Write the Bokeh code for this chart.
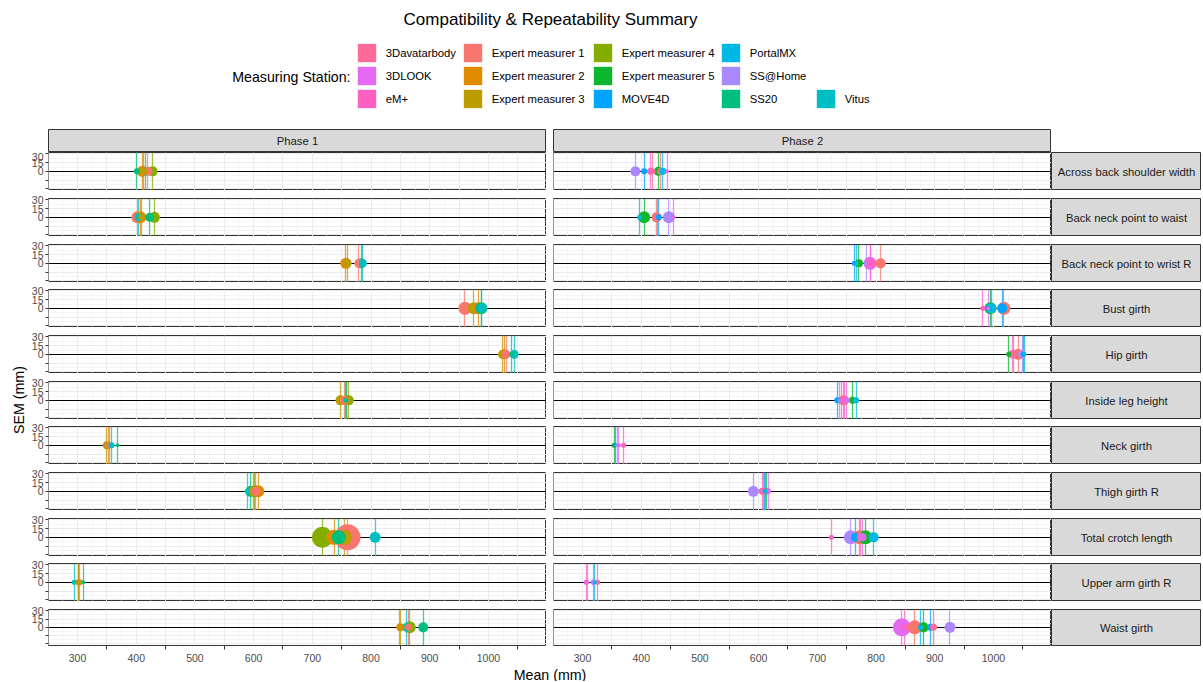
import math
from bokeh.plotting import figure
from bokeh.layouts import row, column
from bokeh.models import (Range1d, FixedTicker, LinearAxis, Grid, Label,
                          Legend, LegendItem, ColumnDataSource, Spacer)
from bokeh.embed import file_html
from bokeh.resources import INLINE

# ---------------- data ----------------
measurements = ["Across back shoulder width", "Back neck point to waist",
                "Back neck point to wrist R", "Bust girth", "Hip girth",
                "Inside leg height", "Neck girth", "Thigh girth R",
                "Total crotch length", "Upper arm girth R", "Waist girth"]
phases = ["Phase 1", "Phase 2"]

stations = ["3Davatarbody", "3DLOOK", "eM+", "Expert measurer 1",
            "Expert measurer 2", "Expert measurer 3", "Expert measurer 4",
            "Expert measurer 5", "MOVE4D", "PortalMX", "SS@Home", "SS20", "Vitus"]
station_colors = ["#FF6A98", "#E46AF2", "#FF61C3", "#F8766D", "#E08B00",
                  "#BB9D00", "#85AD00", "#0CB72D", "#00A5FF", "#00B8E5",
                  "#AC88FF", "#00BF7D", "#00BFC4"]

x_ticks = [300, 400, 500, 600, 700, 800, 900, 1000]
y_ticks = [-30, -15, 0, 15, 30]

E1, E2, E3, E4, E5 = ("Expert measurer 1", "Expert measurer 2", "Expert measurer 3",
                      "Expert measurer 4", "Expert measurer 5")

# Phase 1: row index, station, mean (mm), SEM (mm)
p1_row = [0, 0, 0, 0, 0, 0,
          1, 1, 1, 1, 1, 1,
          2, 2, 2, 2, 2,
          3, 3, 3, 3, 3,
          4, 4, 4, 4, 4,
          5, 5, 5, 5, 5, 5,
          6, 6, 6, 6, 6,
          7, 7, 7, 7, 7, 7,
          8, 8, 8, 8, 8, 8,
          9, 9, 9, 9, 9,
          10, 10, 10, 10, 10, 10]
p1_station = ["SS20", E2, E3, "Vitus", E1, E4,
              E1, "Vitus", E2, E3, "SS20", E4,
              E2, E3, E1, "SS20", "Vitus",
              E1, E3, E2, "SS20", "Vitus",
              E3, E2, E1, "SS20", "Vitus",
              E3, E1, "Vitus", "SS20", E2, E4,
              E3, E2, E1, "Vitus", "SS20",
              "Vitus", "SS20", E3, E4, E1, E2,
              E4, E2, "SS20", E3, E1, "Vitus",
              "Vitus", E2, E3, E1, "SS20",
              E2, E3, "Vitus", E1, E4, "SS20"]
p1_mean = [401, 410, 412, 416, 420, 428,
           402, 404, 407, 409, 423, 431,
           757, 760, 779, 783, 786,
           960, 975, 983, 988, 989,
           1024, 1027, 1030, 1040, 1044,
           748, 755, 757, 758, 759, 762,
           350, 352, 354, 358, 368,
           589, 595, 600, 602, 604, 608,
           717, 737, 745, 755, 760, 807,
           294, 301, 302, 304, 310,
           849, 850, 861, 864, 866, 889]
p1_sem = [2.3, 7.6, 4.0, 5.1, 5.1, 6.3,
          9.0, 4.0, 9.0, 2.3, 5.1, 7.6,
          7.6, 4.0, 5.1, 6.3, 4.0,
          10.6, 9.0, 9.0, 9.0, 5.1,
          5.1, 6.3, 5.1, 1.6, 5.1,
          6.3, 5.1, 1.6, 1.0, 3.1, 6.3,
          4.0, 3.1, 2.3, 2.3, 1.0,
          1.6, 7.6, 6.3, 9.0, 5.1, 9.0,
          27.6, 14.1, 12.3, 14.1, 42.3, 7.6,
          1.6, 2.3, 1.6, 2.3, 1.0,
          2.3, 4.0, 5.1, 3.1, 9.0, 6.3]

# Phase 2
p2_row = [0, 0, 0, 0, 0, 0, 0, 0,
          1, 1, 1, 1, 1, 1, 1,
          2, 2, 2, 2, 2, 2, 2,
          3, 3, 3, 3, 3, 3,
          4, 4, 4, 4, 4, 4, 4,
          5, 5, 5, 5, 5, 5, 5, 5,
          6, 6, 6, 6, 6,
          7, 7, 7, 7, 7, 7, 7,
          8, 8, 8, 8, 8, 8, 8, 8,
          9, 9, 9, 9, 9,
          10, 10, 10, 10, 10, 10, 10, 10]
p2_station = ["SS@Home", "MOVE4D", "eM+", "3Davatarbody", E5, E1, "PortalMX", "3DLOOK",
              "PortalMX", E5, E1, "3Davatarbody", "MOVE4D", "SS@Home", "3DLOOK",
              "MOVE4D", "PortalMX", E5, "SS@Home", "3DLOOK", "eM+", E1,
              "eM+", "3DLOOK", E5, "PortalMX", "MOVE4D", E1,
              E5, "eM+", "3Davatarbody", E1, "SS@Home", "MOVE4D", "PortalMX",
              "MOVE4D", "SS@Home", "3Davatarbody", E1, "eM+", "3DLOOK", E5, "PortalMX",
              E5, "MOVE4D", "SS@Home", "3DLOOK", "eM+",
              "SS@Home", "eM+", "3Davatarbody", "MOVE4D", "PortalMX", E5, "3DLOOK",
              "eM+", "SS@Home", "MOVE4D", E1, "3Davatarbody", "3DLOOK", E5, "PortalMX",
              "eM+", "3DLOOK", "SS@Home", "PortalMX", "3Davatarbody",
              "3DLOOK", "eM+", E1, "PortalMX", E5, "MOVE4D", "3Davatarbody", "SS@Home"]
p2_mean = [390, 405, 416, 420, 429, 433, 437, 444,
           397, 405, 426, 427, 430, 447, 455,
           763, 766, 771, 783, 790, 791, 808,
           982, 991, 995, 996, 1015, 1018,
           1026, 1032, 1034, 1042, 1049, 1051, 1053,
           734, 738, 742, 745, 747, 750, 760, 766,
           354, 356, 359, 362, 370,
           591, 606, 608, 610, 612, 614, 616,
           724, 757, 765, 772, 774, 777, 782, 796,
           306, 308, 319, 321, 326,
           844, 849, 866, 876, 881, 893, 898, 926]
p2_sem = [6.3, 2.3, 3.1, 1.6, 5.1, 3.1, 3.1, 1.0,
          1.6, 9.0, 6.3, 2.3, 2.3, 9.0, 1.0,
          1.6, 1.0, 4.0, 1.0, 10.6, 5.1, 6.3,
          1.6, 1.0, 9.0, 6.3, 6.3, 10.6,
          1.6, 4.0, 2.3, 7.6, 4.0, 1.6, 1.0,
          2.3, 1.0, 4.0, 6.3, 4.0, 2.3, 3.1, 2.3,
          1.6, 1.0, 1.0, 1.0, 1.6,
          7.6, 3.1, 2.3, 1.0, 1.0, 2.3, 2.3,
          1.6, 12.3, 5.1, 12.3, 4.0, 4.0, 12.3, 6.3,
          1.6, 1.0, 2.3, 1.0, 1.6,
          20.3, 2.3, 12.3, 1.6, 6.3, 3.1, 3.1, 7.6]

# ---------------- style / layout ----------------
FONT = "Liberation Sans"
COLOR = dict(zip(stations, station_colors))
XR = (250.5, 1099.0)
YR = (-33.0, 32.5)
PANEL_W, PANEL_H = 498, 38
GAPS = [0, 8, 8, 7, 8, 8, 7, 8, 8, 7, 8]
BOTTOM = 17
LEFT, MID = 20, 7
STRIP_W, STRIP_H = 150, 23
TOP_H, YLAB_W, XT_H = 129, 28, 17
TOTAL_W = YLAB_W + LEFT + PANEL_W + MID + PANEL_W + STRIP_W
BORDER = "#333333"
GRID = "#EBEBEB"


def size_of(sem):
    return 4.0 * math.sqrt(sem)


def base_fig(w, h, xr, yr, **kw):
    opts = dict(width=w, height=h, x_range=Range1d(*xr), y_range=Range1d(*yr),
                x_axis_type=None, y_axis_type=None, toolbar_location=None,
                output_backend="svg", min_border=0, min_border_left=0,
                min_border_right=0, min_border_top=0, min_border_bottom=0,
                outline_line_color=None)
    opts.update(kw)
    return figure(**opts)


def add_grids(p):
    p.add_layout(Grid(dimension=0,
                      ticker=FixedTicker(ticks=list(range(250, 1101, 50)),
                                         minor_ticks=list(range(275, 1100, 50))),
                      grid_line_color=GRID, grid_line_width=1,
                      minor_grid_line_color=GRID, minor_grid_line_width=0.5))
    p.add_layout(Grid(dimension=1,
                      ticker=FixedTicker(ticks=y_ticks, minor_ticks=[-22.5, -7.5, 7.5, 22.5]),
                      grid_line_color=GRID, grid_line_width=1,
                      minor_grid_line_color=GRID, minor_grid_line_width=0.5))


def panel_source(rows_, sts, means, sems, r):
    idx = [i for i in range(len(rows_)) if rows_[i] == r]
    idx.sort(key=lambda i: -sems[i])
    return ColumnDataSource(dict(
        x=[means[i] for i in idx],
        y=[0.0] * len(idx),
        sem=[sems[i] for i in idx],
        size=[size_of(sems[i]) for i in idx],
        color=[COLOR[sts[i]] for i in idx],
        station=[sts[i] for i in idx]))


def make_panel(ph, r):
    last = r == len(measurements) - 1
    left = LEFT if ph == 0 else MID
    h = GAPS[r] + PANEL_H + (BOTTOM if last else 0)
    p = base_fig(left + PANEL_W, h, XR, YR, min_border_left=left,
                 min_border_top=GAPS[r], min_border_bottom=BOTTOM if last else 0,
                 outline_line_color=BORDER, outline_line_width=1,
                 background_fill_color="white")
    add_grids(p)
    if ph == 0:
        src = panel_source(p1_row, p1_station, p1_mean, p1_sem, r)
    else:
        src = panel_source(p2_row, p2_station, p2_mean, p2_sem, r)
    p.vspan(x="x", line_color="color", line_width=1.3, line_alpha=0.75, source=src)
    p.hspan(y=[0], line_color="black", line_width=1)
    p.scatter(x="x", y="y", size="size", fill_color="color", line_color=None, source=src)
    if ph == 0:
        yax = LinearAxis(ticker=FixedTicker(ticks=y_ticks, minor_ticks=[]),
                         major_label_overrides={-30: "", -15: "", 0: "0", 15: "15", 30: "30"},
                         axis_line_color=None, major_tick_out=3, major_tick_in=0,
                         minor_tick_out=0, minor_tick_in=0,
                         major_tick_line_color=BORDER,
                         major_label_standoff=2,
                         major_label_text_font=FONT,
                         major_label_text_font_size="10.5px",
                         major_label_text_color="#4D4D4D")
        p.add_layout(yax, "left")
    if last:
        xax = LinearAxis(ticker=FixedTicker(ticks=x_ticks,
                                            minor_ticks=[t + 50 for t in x_ticks]),
                         axis_line_color=None, major_tick_out=0, major_tick_in=0,
                         minor_tick_out=4, minor_tick_in=0,
                         minor_tick_line_color=BORDER,
                         major_label_standoff=4,
                         major_label_text_font=FONT,
                         major_label_text_font_size="10.5px",
                         major_label_text_color="#4D4D4D")
        p.add_layout(xax, "below")
    return p


def make_strip(w, h, text, left=0, top=0, bottom=0):
    s = base_fig(w, h, (0, 1), (0, 1), min_border_left=left, min_border_top=top,
                 min_border_bottom=bottom, background_fill_color="#D9D9D9",
                 outline_line_color=BORDER, outline_line_width=1)
    s.add_layout(Label(x=0.5, y=0.5, text=text, text_align="center",
                       text_baseline="middle", text_font=FONT,
                       text_font_size="11.3px", text_color="#1A1A1A"))
    return s


# ---------------- top: title + legend (page pixel coordinates) ----------------
top = base_fig(TOTAL_W, TOP_H, (0, TOTAL_W), (TOP_H, 0))
top.add_layout(Label(x=550, y=19, text="Compatibility & Repeatability Summary",
                     text_align="center", text_baseline="middle", text_font=FONT,
                     text_font_size="17px", text_color="black"))
top.add_layout(Label(x=350, y=76, text="Measuring Station:", text_align="right",
                     text_baseline="middle", text_font=FONT,
                     text_font_size="14.2px", text_color="black"))
nan = float("nan")
legend_renderers = {}
for st in stations:
    legend_renderers[st] = top.quad(left=[nan], right=[nan], top=[nan], bottom=[nan],
                                    fill_color=COLOR[st], line_color=None)
KEY = 23          # legend glyph box (area glyphs are drawn at 80 % of it)
INSET = KEY * 0.1
legend_cols_x = [357, 463, 593, 721, 816]
legend_bottom = 108
for c in range(5):
    group = stations[c * 3:(c + 1) * 3]
    leg = Legend(items=[LegendItem(label=st, renderers=[legend_renderers[st]]) for st in group],
                 location=(legend_cols_x[c] - INSET, TOP_H - legend_bottom - INSET),
                 orientation="vertical", glyph_width=KEY, glyph_height=KEY,
                 label_height=KEY, spacing=0, padding=0, margin=0,
                 label_standoff=8, border_line_color=None,
                 background_fill_alpha=0, label_text_font=FONT,
                 label_text_font_size="11.3px", label_text_color="black",
                 label_text_baseline="middle")
    top.add_layout(leg)

# ---------------- panels ----------------
strip_row = row(make_strip(LEFT + PANEL_W, STRIP_H, phases[0], left=LEFT),
                make_strip(MID + PANEL_W, STRIP_H, phases[1], left=MID),
                Spacer(width=STRIP_W, height=STRIP_H), spacing=0)

panel_rows = []
for r in range(len(measurements)):
    last = r == len(measurements) - 1
    h = GAPS[r] + PANEL_H + (BOTTOM if last else 0)
    panel_rows.append(row(make_panel(0, r), make_panel(1, r),
                          make_strip(STRIP_W, h, measurements[r], top=GAPS[r],
                                     bottom=BOTTOM if last else 0), spacing=0))

inner_w = TOTAL_W - YLAB_W
xt = base_fig(inner_w, XT_H, (YLAB_W, TOTAL_W), (XT_H, 0))
panel_center_x = YLAB_W + LEFT + (PANEL_W * 2 + MID) / 2
xt.add_layout(Label(x=panel_center_x, y=10, text="Mean (mm)", text_align="center",
                    text_baseline="middle", text_font=FONT, text_font_size="14.2px",
                    text_color="black"))

body_h = STRIP_H + sum(GAPS) + PANEL_H * len(measurements) + BOTTOM + XT_H
y0 = TOP_H
ylab = base_fig(YLAB_W, body_h, (0, YLAB_W), (y0 + body_h, y0))
panel_top = y0 + STRIP_H
panel_bot = panel_top + sum(GAPS) + PANEL_H * len(measurements)
ylab.add_layout(Label(x=18, y=(panel_top + panel_bot) / 2, text="SEM (mm)",
                      angle=math.pi / 2, text_align="center", text_baseline="middle",
                      text_font=FONT, text_font_size="14.2px", text_color="black"))

body = column(strip_row, *panel_rows, xt, spacing=0)
layout = column(top, row(ylab, body, spacing=0), spacing=0)

open("out.html", "w").write(file_html(layout, INLINE))
